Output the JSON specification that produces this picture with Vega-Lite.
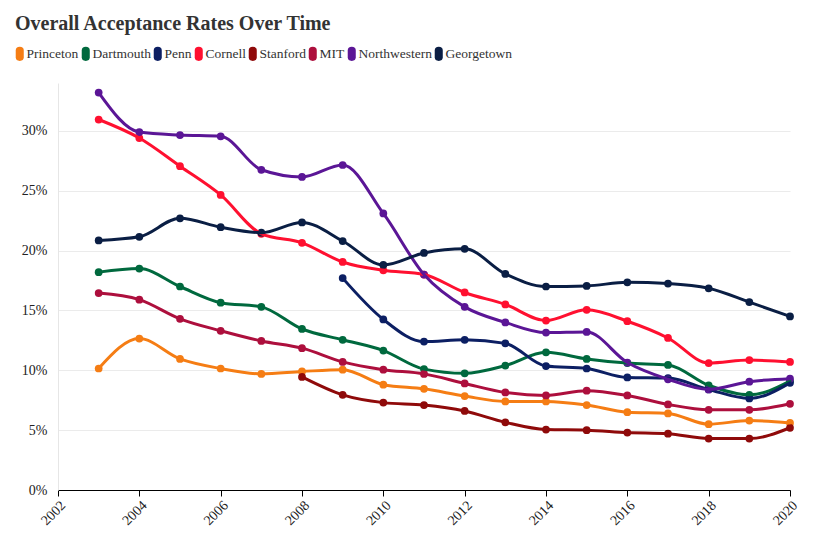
{
  "$schema": "https://vega.github.io/schema/vega-lite/v6.json",
  "width": 732,
  "height": 407,
  "autosize": {"type": "none"},
  "padding": {"left": 58, "top": 83, "right": 36, "bottom": 55},
  "background": "white",
  "title": {"text": "Overall Acceptance Rates Over Time", "anchor": "start", "frame": "group", "dx": -43, "offset": -3, "baseline": "alphabetic", "font": "Liberation Serif, Times New Roman, serif", "fontSize": 20, "fontWeight": "bold", "color": "#333333"},
  "config": {"view": {"stroke": null}},
  "data": {"values": [
    {"school": "Princeton", "year": 2003, "rate": 10.15}, {"school": "Princeton", "year": 2004, "rate": 12.65}, {"school": "Princeton", "year": 2005, "rate": 10.95}, {"school": "Princeton", "year": 2006, "rate": 10.15}, {"school": "Princeton", "year": 2007, "rate": 9.7}, {"school": "Princeton", "year": 2008, "rate": 9.9}, {"school": "Princeton", "year": 2009, "rate": 10.05}, {"school": "Princeton", "year": 2010, "rate": 8.8}, {"school": "Princeton", "year": 2011, "rate": 8.45}, {"school": "Princeton", "year": 2012, "rate": 7.85}, {"school": "Princeton", "year": 2013, "rate": 7.4}, {"school": "Princeton", "year": 2014, "rate": 7.4}, {"school": "Princeton", "year": 2015, "rate": 7.1}, {"school": "Princeton", "year": 2016, "rate": 6.5}, {"school": "Princeton", "year": 2017, "rate": 6.4}, {"school": "Princeton", "year": 2018, "rate": 5.5}, {"school": "Princeton", "year": 2019, "rate": 5.8}, {"school": "Princeton", "year": 2020, "rate": 5.6},
    {"school": "Dartmouth", "year": 2003, "rate": 18.2}, {"school": "Dartmouth", "year": 2004, "rate": 18.5}, {"school": "Dartmouth", "year": 2005, "rate": 17.0}, {"school": "Dartmouth", "year": 2006, "rate": 15.65}, {"school": "Dartmouth", "year": 2007, "rate": 15.3}, {"school": "Dartmouth", "year": 2008, "rate": 13.45}, {"school": "Dartmouth", "year": 2009, "rate": 12.55}, {"school": "Dartmouth", "year": 2010, "rate": 11.65}, {"school": "Dartmouth", "year": 2011, "rate": 10.1}, {"school": "Dartmouth", "year": 2012, "rate": 9.75}, {"school": "Dartmouth", "year": 2013, "rate": 10.4}, {"school": "Dartmouth", "year": 2014, "rate": 11.5}, {"school": "Dartmouth", "year": 2015, "rate": 10.95}, {"school": "Dartmouth", "year": 2016, "rate": 10.6}, {"school": "Dartmouth", "year": 2017, "rate": 10.45}, {"school": "Dartmouth", "year": 2018, "rate": 8.75}, {"school": "Dartmouth", "year": 2019, "rate": 7.95}, {"school": "Dartmouth", "year": 2020, "rate": 9.1},
    {"school": "Penn", "year": 2009, "rate": 17.7}, {"school": "Penn", "year": 2010, "rate": 14.25}, {"school": "Penn", "year": 2011, "rate": 12.4}, {"school": "Penn", "year": 2012, "rate": 12.55}, {"school": "Penn", "year": 2013, "rate": 12.25}, {"school": "Penn", "year": 2014, "rate": 10.35}, {"school": "Penn", "year": 2015, "rate": 10.15}, {"school": "Penn", "year": 2016, "rate": 9.4}, {"school": "Penn", "year": 2017, "rate": 9.35}, {"school": "Penn", "year": 2018, "rate": 8.4}, {"school": "Penn", "year": 2019, "rate": 7.65}, {"school": "Penn", "year": 2020, "rate": 8.95},
    {"school": "Cornell", "year": 2003, "rate": 30.95}, {"school": "Cornell", "year": 2004, "rate": 29.4}, {"school": "Cornell", "year": 2005, "rate": 27.05}, {"school": "Cornell", "year": 2006, "rate": 24.65}, {"school": "Cornell", "year": 2007, "rate": 21.4}, {"school": "Cornell", "year": 2008, "rate": 20.65}, {"school": "Cornell", "year": 2009, "rate": 19.05}, {"school": "Cornell", "year": 2010, "rate": 18.35}, {"school": "Cornell", "year": 2011, "rate": 18.0}, {"school": "Cornell", "year": 2012, "rate": 16.5}, {"school": "Cornell", "year": 2013, "rate": 15.5}, {"school": "Cornell", "year": 2014, "rate": 14.15}, {"school": "Cornell", "year": 2015, "rate": 15.05}, {"school": "Cornell", "year": 2016, "rate": 14.1}, {"school": "Cornell", "year": 2017, "rate": 12.7}, {"school": "Cornell", "year": 2018, "rate": 10.6}, {"school": "Cornell", "year": 2019, "rate": 10.85}, {"school": "Cornell", "year": 2020, "rate": 10.7},
    {"school": "Stanford", "year": 2008, "rate": 9.45}, {"school": "Stanford", "year": 2009, "rate": 7.95}, {"school": "Stanford", "year": 2010, "rate": 7.3}, {"school": "Stanford", "year": 2011, "rate": 7.1}, {"school": "Stanford", "year": 2012, "rate": 6.6}, {"school": "Stanford", "year": 2013, "rate": 5.65}, {"school": "Stanford", "year": 2014, "rate": 5.05}, {"school": "Stanford", "year": 2015, "rate": 5.0}, {"school": "Stanford", "year": 2016, "rate": 4.8}, {"school": "Stanford", "year": 2017, "rate": 4.7}, {"school": "Stanford", "year": 2018, "rate": 4.3}, {"school": "Stanford", "year": 2019, "rate": 4.3}, {"school": "Stanford", "year": 2020, "rate": 5.2},
    {"school": "MIT", "year": 2003, "rate": 16.45}, {"school": "MIT", "year": 2004, "rate": 15.9}, {"school": "MIT", "year": 2005, "rate": 14.3}, {"school": "MIT", "year": 2006, "rate": 13.3}, {"school": "MIT", "year": 2007, "rate": 12.45}, {"school": "MIT", "year": 2008, "rate": 11.85}, {"school": "MIT", "year": 2009, "rate": 10.7}, {"school": "MIT", "year": 2010, "rate": 10.05}, {"school": "MIT", "year": 2011, "rate": 9.7}, {"school": "MIT", "year": 2012, "rate": 8.9}, {"school": "MIT", "year": 2013, "rate": 8.15}, {"school": "MIT", "year": 2014, "rate": 7.9}, {"school": "MIT", "year": 2015, "rate": 8.3}, {"school": "MIT", "year": 2016, "rate": 7.9}, {"school": "MIT", "year": 2017, "rate": 7.15}, {"school": "MIT", "year": 2018, "rate": 6.7}, {"school": "MIT", "year": 2019, "rate": 6.7}, {"school": "MIT", "year": 2020, "rate": 7.2},
    {"school": "Northwestern", "year": 2003, "rate": 33.2}, {"school": "Northwestern", "year": 2004, "rate": 29.9}, {"school": "Northwestern", "year": 2005, "rate": 29.65}, {"school": "Northwestern", "year": 2006, "rate": 29.55}, {"school": "Northwestern", "year": 2007, "rate": 26.75}, {"school": "Northwestern", "year": 2008, "rate": 26.15}, {"school": "Northwestern", "year": 2009, "rate": 27.15}, {"school": "Northwestern", "year": 2010, "rate": 23.1}, {"school": "Northwestern", "year": 2011, "rate": 18.0}, {"school": "Northwestern", "year": 2012, "rate": 15.3}, {"school": "Northwestern", "year": 2013, "rate": 14.0}, {"school": "Northwestern", "year": 2014, "rate": 13.15}, {"school": "Northwestern", "year": 2015, "rate": 13.2}, {"school": "Northwestern", "year": 2016, "rate": 10.65}, {"school": "Northwestern", "year": 2017, "rate": 9.25}, {"school": "Northwestern", "year": 2018, "rate": 8.4}, {"school": "Northwestern", "year": 2019, "rate": 9.05}, {"school": "Northwestern", "year": 2020, "rate": 9.3},
    {"school": "Georgetown", "year": 2003, "rate": 20.85}, {"school": "Georgetown", "year": 2004, "rate": 21.15}, {"school": "Georgetown", "year": 2005, "rate": 22.7}, {"school": "Georgetown", "year": 2006, "rate": 21.95}, {"school": "Georgetown", "year": 2007, "rate": 21.5}, {"school": "Georgetown", "year": 2008, "rate": 22.35}, {"school": "Georgetown", "year": 2009, "rate": 20.8}, {"school": "Georgetown", "year": 2010, "rate": 18.8}, {"school": "Georgetown", "year": 2011, "rate": 19.8}, {"school": "Georgetown", "year": 2012, "rate": 20.15}, {"school": "Georgetown", "year": 2013, "rate": 18.05}, {"school": "Georgetown", "year": 2014, "rate": 17.0}, {"school": "Georgetown", "year": 2015, "rate": 17.05}, {"school": "Georgetown", "year": 2016, "rate": 17.35}, {"school": "Georgetown", "year": 2017, "rate": 17.25}, {"school": "Georgetown", "year": 2018, "rate": 16.85}, {"school": "Georgetown", "year": 2019, "rate": 15.7}, {"school": "Georgetown", "year": 2020, "rate": 14.5}
  ]},
  "encoding": {
    "x": {"field": "year", "type": "quantitative", "scale": {"domain": [2002, 2020], "nice": false, "zero": false},
      "axis": {"title": null, "values": [2002, 2004, 2006, 2008, 2010, 2012, 2014, 2016, 2018, 2020], "format": "d", "labelAngle": -45, "grid": false, "domainColor": "#000000", "tickColor": "#000000", "tickSize": 6, "labelFont": "Liberation Serif, Times New Roman, serif", "labelFontSize": 14, "labelColor": "#222222"}},
    "y": {"field": "rate", "type": "quantitative", "scale": {"domain": [0, 34], "nice": false},
      "axis": {"title": null, "values": [0, 5, 10, 15, 20, 25, 30], "labelExpr": "datum.value + '%'", "ticks": false, "domainColor": "#e6e6e6", "gridColor": "#ebebeb", "labelFont": "Liberation Serif, Times New Roman, serif", "labelFontSize": 14, "labelColor": "#222222", "labelPadding": 11}},
    "color": {"field": "school", "type": "nominal",
      "scale": {"domain": ["Princeton", "Dartmouth", "Penn", "Cornell", "Stanford", "MIT", "Northwestern", "Georgetown"],
                "range": ["#f57d14", "#00693e", "#0c1f63", "#ff1030", "#8f0a0a", "#ad0f3d", "#5b1696", "#0a1e44"]},
      "legend": {"title": null, "orient": "none", "direction": "horizontal", "legendX": -45, "legendY": -36, "padding": 0,
        "symbolType": "M-0.67,-0.58 Q-0.67,-1.17 0,-1.17 Q0.67,-1.17 0.67,-0.58 L0.67,0.58 Q0.67,1.17 0,1.17 Q-0.67,1.17 -0.67,0.58 Z",
        "symbolSize": 144, "symbolStrokeWidth": 0, "symbolOpacity": 1, "labelFont": "Liberation Serif, Times New Roman, serif", "labelFontSize": 13.5, "labelColor": "#333333", "labelOffset": 0, "columnPadding": 0}}
  },
  "layer": [
    {"mark": {"type": "circle", "size": 60, "opacity": 1}},
    {"mark": {"type": "line", "interpolate": "monotone", "strokeWidth": 3, "strokeCap": "round"}}
  ]
}
